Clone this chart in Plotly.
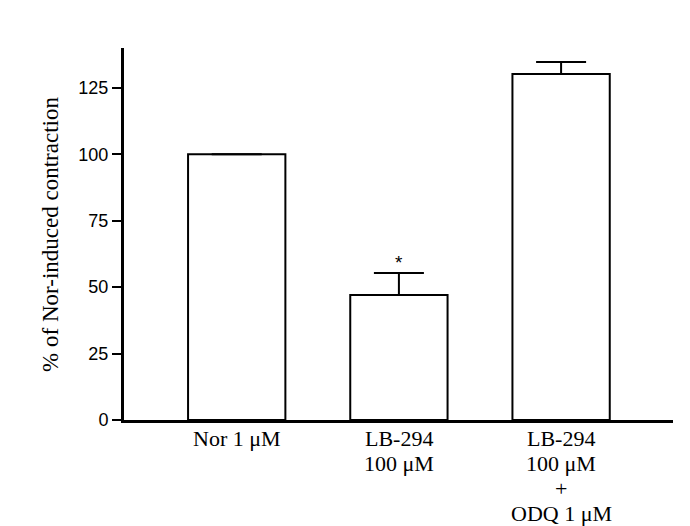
import plotly.graph_objects as go

# bar groups and values (% of Nor-induced contraction)
groups = ["Nor 1 μM", "LB-294 100 μM", "LB-294 100 μM + ODQ 1 μM"]
group_lines = [["Nor 1 μM"], ["LB-294", "100 μM"], ["LB-294", "100 μM", "+", "ODQ 1 μM"]]
means = [100, 47, 130.2]
sem = [0, 8.3, 4.5]
signif = ["", "*", ""]
yticks = [0, 25, 50, 75, 100, 125]

fig = go.Figure(go.Bar(
    x=groups,
    y=means,
    width=0.6,
    marker=dict(color="white", line=dict(color="black", width=2)),
    error_y=dict(type="data", array=sem, arrayminus=[0, 0, 0], symmetric=False,
                 color="black", thickness=2, width=25),
))

# significance marks above the error bars
for g, m, s, t in zip(groups, means, sem, signif):
    if t:
        fig.add_annotation(x=g, y=m + s, text=t, showarrow=False, yanchor="middle",
                           yshift=11, font=dict(family="Liberation Sans", size=19, color="black"))

# category labels, one line each so the line spacing matches the scan
for g, lines in zip(groups, group_lines):
    for i, line in enumerate(lines):
        fig.add_annotation(x=g, y=0, text=line, showarrow=False, yanchor="middle",
                           yshift=-(18 + i * 25), borderpad=0,
                           font=dict(family="Liberation Serif", size=22, color="black"))

# y axis title placed by hand to sit like the scanned figure
fig.add_annotation(xref="paper", yref="paper", x=-0.135, y=0.5, text="% of Nor-induced contraction",
                   textangle=-90, showarrow=False, xanchor="center", yanchor="middle",
                   font=dict(family="Liberation Serif", size=23, color="black"))

fig.update_layout(
    width=690,
    height=526,
    margin=dict(l=116, r=25, t=40, b=114),
    paper_bgcolor="white",
    plot_bgcolor="white",
    showlegend=False,
)

fig.update_xaxes(
    range=[-0.695, 2.69],
    showline=True, linecolor="black", linewidth=3,
    ticks="", showgrid=False, zeroline=False, showticklabels=False,
)
fig.update_yaxes(
    range=[0, 140],
    tickvals=yticks,
    showline=True, linecolor="black", linewidth=3,
    ticks="outside", ticklen=9, tickwidth=2, tickcolor="black",
    showgrid=False, zeroline=False,
    tickfont=dict(family="Liberation Sans", size=18, color="black"),
    ticklabelstandoff=0,
)

fig.write_html("out.html")
